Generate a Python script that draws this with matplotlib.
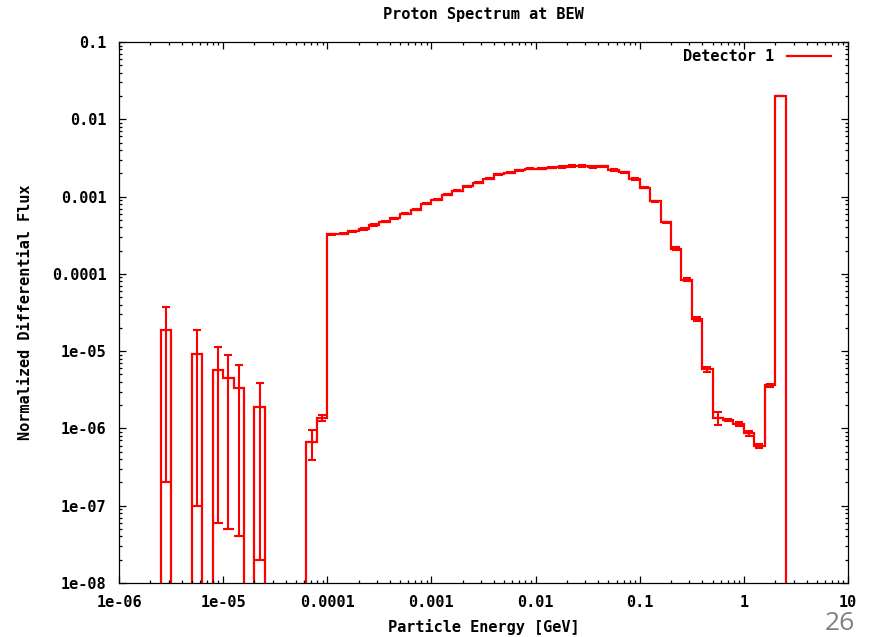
import numpy as np
import matplotlib
matplotlib.use("Agg")
import matplotlib.pyplot as plt
from matplotlib.ticker import LogLocator, FixedLocator, FixedFormatter, NullFormatter

# ---- data ----
# histogram bins: log10 lower edges from -6.0 to 0.9 in steps of 0.1 (energy in GeV)
bin_log_start = -6.0
bin_log_width = 0.1
n_bins = 70

flux = [
    0, 0, 0, 0, 1.9e-5, 0, 0, 9.3e-6, 0, 5.7e-6,
    4.45e-6, 3.37e-6, 0, 1.92e-6, 0, 0, 0, 0, 6.7e-7, 1.35e-6,
    3.24e-4, 3.30e-4, 3.54e-4, 3.79e-4, 4.27e-4, 4.73e-4, 5.22e-4, 6.0e-4, 6.76e-4, 8.09e-4,
    9.12e-4, 1.06e-3, 1.19e-3, 1.36e-3, 1.51e-3, 1.71e-3, 1.94e-3, 2.04e-3, 2.19e-3, 2.30e-3,
    2.30e-3, 2.37e-3, 2.41e-3, 2.49e-3, 2.49e-3, 2.41e-3, 2.47e-3, 2.20e-3, 2.06e-3, 1.69e-3,
    1.30e-3, 8.65e-4, 4.65e-4, 2.12e-4, 8.45e-5, 2.62e-5, 5.8e-6, 1.37e-6, 1.27e-6, 1.15e-6,
    8.7e-7, 5.9e-7, 3.6e-6, 2.0e-2, 0, 0, 0, 0, 0, 0,
]
flux_err = [
    0, 0, 0, 0, 1.88e-5, 0, 0, 9.2e-6, 0, 5.64e-6,
    4.4e-6, 3.33e-6, 0, 1.9e-6, 0, 0, 0, 0, 2.8e-7, 1.2e-7,
    6e-6, 6e-6, 7e-6, 8e-6, 9e-6, 9e-6, 1.0e-5, 1.2e-5, 1.3e-5, 1.6e-5,
    1.8e-5, 2.0e-5, 2.3e-5, 2.6e-5, 3.0e-5, 3.3e-5, 3.8e-5, 4.0e-5, 4.3e-5, 4.5e-5,
    4.5e-5, 4.6e-5, 4.7e-5, 4.9e-5, 4.9e-5, 4.7e-5, 4.8e-5, 4.3e-5, 4.0e-5, 3.3e-5,
    2.5e-5, 1.7e-5, 5e-6, 8e-6, 4e-6, 1.5e-6, 3.5e-7, 2.6e-7, 4e-8, 6e-8,
    6e-8, 3e-8, 1.2e-7, 2e-4, 0, 0, 0, 0, 0, 0,
]

x_ticks = [1e-6, 1e-5, 1e-4, 1e-3, 1e-2, 1e-1, 1, 10]
x_tick_labels = ["1e-06", "1e-05", "0.0001", "0.001", "0.01", "0.1", "1", "10"]
y_ticks = [1e-8, 1e-7, 1e-6, 1e-5, 1e-4, 1e-3, 1e-2, 1e-1]
y_tick_labels = ["1e-08", "1e-07", "1e-06", "1e-05", "0.0001", "0.001", "0.01", "0.1"]

title = "Proton Spectrum at BEW"
x_label = "Particle Energy [GeV]"
y_label = "Normalized Differential Flux"
series_label = "Detector 1"
page_number = "26"

# ---- derived ----
flux = np.array(flux, dtype=float)
flux_err = np.array(flux_err, dtype=float)
log_edges = bin_log_start + bin_log_width * np.arange(n_bins + 1)
edges = 10 ** log_edges
centers = 10 ** (log_edges[:-1] + bin_log_width / 2)

RED = "#ff0000"
FS = 11
FONT = {"family": "DejaVu Sans Mono", "weight": "bold", "size": FS}

fig = plt.figure(figsize=(8.76, 6.37), dpi=100)
ax = fig.add_axes([119 / 876, 1 - 583 / 637, (848 - 119) / 876, (583 - 42) / 637])
ax.set_xscale("log")
ax.set_yscale("log")
ax.set_xlim(1e-6, 10)
ax.set_ylim(1e-8, 1e-1)

# histogram steps; empty bins drop below the axis floor like gnuplot
draw_vals = np.where(flux > 0, flux, 1e-14)
ax.stairs(draw_vals, edges, baseline=None, color=RED, lw=1.6, label=series_label)

# error bars
mask = flux > 0
ax.errorbar(centers[mask], flux[mask], yerr=flux_err[mask], fmt="none",
            ecolor=RED, elinewidth=1.5, capsize=3.2, capthick=1.5)

# wide lower bar for the bins whose error reaches nearly zero
wide = mask & (flux_err > 0.9 * flux)
ax.hlines(flux[wide] - flux_err[wide], edges[:-1][wide], edges[1:][wide],
          colors=RED, lw=1.5)

# ticks
ax.xaxis.set_major_locator(FixedLocator(x_ticks))
ax.xaxis.set_major_formatter(FixedFormatter(x_tick_labels))
ax.yaxis.set_major_locator(FixedLocator(y_ticks))
ax.yaxis.set_major_formatter(FixedFormatter(y_tick_labels))
ax.xaxis.set_minor_locator(LogLocator(base=10, subs=np.arange(2, 10), numticks=20))
ax.yaxis.set_minor_locator(LogLocator(base=10, subs=np.arange(2, 10), numticks=20))
ax.xaxis.set_minor_formatter(NullFormatter())
ax.yaxis.set_minor_formatter(NullFormatter())
ax.tick_params(which="both", direction="in", top=True, right=True, width=0.9,
               colors="black")
ax.tick_params(which="major", length=5)
ax.tick_params(which="minor", length=2.5)
ax.tick_params(axis="x", which="major", pad=8.5)
ax.tick_params(axis="y", which="major", pad=9)
for lab in ax.get_xticklabels() + ax.get_yticklabels():
    lab.set_fontfamily(FONT["family"])
    lab.set_fontweight(FONT["weight"])
    lab.set_fontsize(FS)
for s in ax.spines.values():
    s.set_linewidth(0.9)

ax.set_title(title, fontdict=FONT, y=1 + (42 - 15) / 541, va="center", pad=0)
ax.set_xlabel(x_label, fontdict=FONT, va="center")
ax.xaxis.set_label_coords(0.5, (583 - 627) / 541)
ax.set_ylabel(y_label, fontdict=FONT, va="center")
ax.yaxis.set_label_coords((25 - 119) / 729, 0.5)

leg = ax.legend(loc="upper right", frameon=False,
                prop={"family": FONT["family"], "weight": "bold", "size": FS},
                markerfirst=False, handlelength=2.9, borderaxespad=0,
                handletextpad=0.8, borderpad=0,
                bbox_to_anchor=((831 - 119) / 729, 1 - 7 / 541))

fig.text(855 / 876, 1 - 623 / 637, page_number, ha="right", va="center",
         fontsize=19, color="#808080", family="Open Sans")

fig.savefig("out.png", dpi=100, facecolor="white")
